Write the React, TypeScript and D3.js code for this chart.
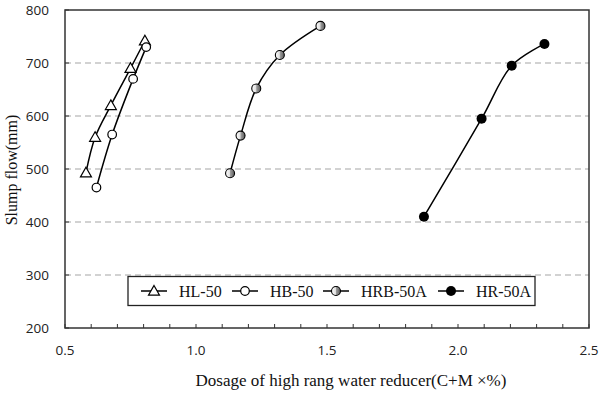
import React, { useRef, useEffect } from "react";
import * as d3 from "d3";

// series: dosage (C+M x %) and slump flow (mm)
const hlX = [0.58, 0.615, 0.675, 0.75, 0.805];
const hlY = [493, 560, 620, 690, 742];
const hbX = [0.62, 0.68, 0.76, 0.81];
const hbY = [465, 565, 670, 730];
const hrbX = [1.13, 1.17, 1.23, 1.32, 1.475];
const hrbY = [492, 563, 652, 715, 770];
const hrX = [1.87, 2.09, 2.205, 2.33];
const hrY = [410, 595, 695, 736];

const seriesNames = ["HL-50", "HB-50", "HRB-50A", "HR-50A"];
const xTicks = [0.5, 1.0, 1.5, 2.0, 2.5];
const yTicks = [200, 300, 400, 500, 600, 700, 800];
const gridValues = [300, 400, 500, 600, 700];

const App = () => {
  const ref = useRef<SVGSVGElement>(null);

  useEffect(() => {
    const svg = d3.select(ref.current);
    svg.selectAll("*").remove();

    const left = 65, right = 589, top = 10, bottom = 328;

    const x = d3.scaleLinear().domain([0.5, 2.5]).range([left, right]);
    const y = d3.scaleLinear().domain([200, 800]).range([bottom, top]);

    const defs = svg.append("defs");
    const grad = defs
      .append("linearGradient")
      .attr("id", "halfGrey")
      .attr("x1", "0%")
      .attr("x2", "100%")
      .attr("y1", "0%")
      .attr("y2", "0%");
    grad.append("stop").attr("offset", "0%").attr("stop-color", "#ffffff");
    grad.append("stop").attr("offset", "45%").attr("stop-color", "#e0e0e0");
    grad.append("stop").attr("offset", "55%").attr("stop-color", "#9a9a9a");
    grad.append("stop").attr("offset", "100%").attr("stop-color", "#5a5a5a");

    svg
      .append("rect")
      .attr("width", 600)
      .attr("height", 393)
      .attr("fill", "#fff");

    // dashed gridlines
    svg
      .append("g")
      .selectAll("line")
      .data(gridValues)
      .enter()
      .append("line")
      .attr("x1", left)
      .attr("x2", right)
      .attr("y1", (d) => y(d))
      .attr("y2", (d) => y(d))
      .attr("stroke", "#a6a6a6")
      .attr("stroke-width", 1.2)
      .attr("stroke-dasharray", "6,4");

    // minor ticks on x axis, inside
    const minor = d3.range(0.5, 2.5001, 0.1);
    svg
      .append("g")
      .selectAll("line")
      .data(minor)
      .enter()
      .append("line")
      .attr("x1", (d) => x(d))
      .attr("x2", (d) => x(d))
      .attr("y1", bottom)
      .attr("y2", bottom - 4)
      .attr("stroke", "#333")
      .attr("stroke-width", 1);

    svg
      .append("g")
      .selectAll("line")
      .data(yTicks)
      .enter()
      .append("line")
      .attr("x1", left)
      .attr("x2", left + 4)
      .attr("y1", (d) => y(d))
      .attr("y2", (d) => y(d))
      .attr("stroke", "#333")
      .attr("stroke-width", 1);

    // plot frame
    svg
      .append("rect")
      .attr("x", left)
      .attr("y", top)
      .attr("width", right - left)
      .attr("height", bottom - top)
      .attr("fill", "none")
      .attr("stroke", "#333")
      .attr("stroke-width", 1.5);

    // tick labels
    svg
      .append("g")
      .selectAll("text")
      .data(xTicks)
      .enter()
      .append("text")
      .attr("x", (d) => x(d))
      .attr("y", 355)
      .attr("text-anchor", "middle")
      .style("font-family", "'Open Sans', sans-serif")
      .style("font-size", "13.5px")
      .attr("fill", "#222")
      .text((d) => d3.format(".1f")(d));

    svg
      .append("g")
      .selectAll("text")
      .data(yTicks)
      .enter()
      .append("text")
      .attr("x", 49)
      .attr("y", (d) => y(d) + 5)
      .attr("text-anchor", "end")
      .style("font-family", "'Open Sans', sans-serif")
      .style("font-size", "13.5px")
      .attr("fill", "#222")
      .text((d) => d);

    // axis titles
    svg
      .append("text")
      .attr("x", 351)
      .attr("y", 386)
      .attr("text-anchor", "middle")
      .style("font-family", "'Liberation Serif', 'Times New Roman', serif")
      .style("font-size", "17px")
      .attr("fill", "#111")
      .text("Dosage of high rang water reducer(C+M ×%)");

    svg
      .append("text")
      .attr("transform", "translate(17,170) rotate(-90)")
      .attr("text-anchor", "middle")
      .style("font-family", "'Liberation Serif', 'Times New Roman', serif")
      .style("font-size", "16px")
      .attr("fill", "#111")
      .text("Slump flow(mm)");

    const line = d3
      .line<[number, number]>()
      .x((d) => x(d[0]))
      .y((d) => y(d[1]))
      .curve(d3.curveCatmullRom.alpha(0.5));

    const series = [
      { name: seriesNames[0], pts: hlX.map((v, i) => [v, hlY[i]] as [number, number]), kind: "tri" },
      { name: seriesNames[1], pts: hbX.map((v, i) => [v, hbY[i]] as [number, number]), kind: "open" },
      { name: seriesNames[2], pts: hrbX.map((v, i) => [v, hrbY[i]] as [number, number]), kind: "half" },
      { name: seriesNames[3], pts: hrX.map((v, i) => [v, hrY[i]] as [number, number]), kind: "fill" },
    ];

    const drawMarker = (g: any, cx: number, cy: number, kind: string) => {
      if (kind === "tri") {
        const s = 5.5;
        g.append("path")
          .attr("d", `M${cx},${cy - s} L${cx + s},${cy + s * 0.75} L${cx - s},${cy + s * 0.75} Z`)
          .attr("fill", "#fff")
          .attr("stroke", "#000")
          .attr("stroke-width", 1.2);
      } else if (kind === "open") {
        g.append("circle")
          .attr("cx", cx)
          .attr("cy", cy)
          .attr("r", 4.3)
          .attr("fill", "#fff")
          .attr("stroke", "#000")
          .attr("stroke-width", 1.2);
      } else if (kind === "half") {
        g.append("circle")
          .attr("cx", cx)
          .attr("cy", cy)
          .attr("r", 4.5)
          .attr("fill", "url(#halfGrey)")
          .attr("stroke", "#000")
          .attr("stroke-width", 1.1);
      } else {
        g.append("circle")
          .attr("cx", cx)
          .attr("cy", cy)
          .attr("r", 5)
          .attr("fill", "#000");
      }
    };

    series.forEach((s) => {
      const g = svg.append("g");
      g.append("path")
        .attr("d", line(s.pts))
        .attr("fill", "none")
        .attr("stroke", "#000")
        .attr("stroke-width", 1.5);
      s.pts.forEach((p) => drawMarker(g, x(p[0]), y(p[1]), s.kind));
    });

    // legend
    const lg = svg.append("g");
    lg.append("rect")
      .attr("x", 128)
      .attr("y", 276.5)
      .attr("width", 407)
      .attr("height", 29)
      .attr("fill", "#fff")
      .attr("stroke", "#222")
      .attr("stroke-width", 1.3);

    const legendX = [141, 232, 323, 438];
    series.forEach((s, i) => {
      const lx = legendX[i];
      const ly = 291;
      lg.append("line")
        .attr("x1", lx)
        .attr("x2", lx + 26)
        .attr("y1", ly)
        .attr("y2", ly)
        .attr("stroke", "#000")
        .attr("stroke-width", 1.5);
      drawMarker(lg, lx + 13, ly, s.kind);
      lg.append("text")
        .attr("x", lx + 38)
        .attr("y", ly + 5.5)
        .style("font-family", "'Liberation Serif', 'Times New Roman', serif")
        .style("font-size", "16px")
        .attr("fill", "#111")
        .text(s.name);
    });
  }, []);

  return (
    <svg
      ref={ref}
      width={600}
      height={393}
      style={{ position: "absolute", left: 0, top: 0 }}
    />
  );
};

export default App;
